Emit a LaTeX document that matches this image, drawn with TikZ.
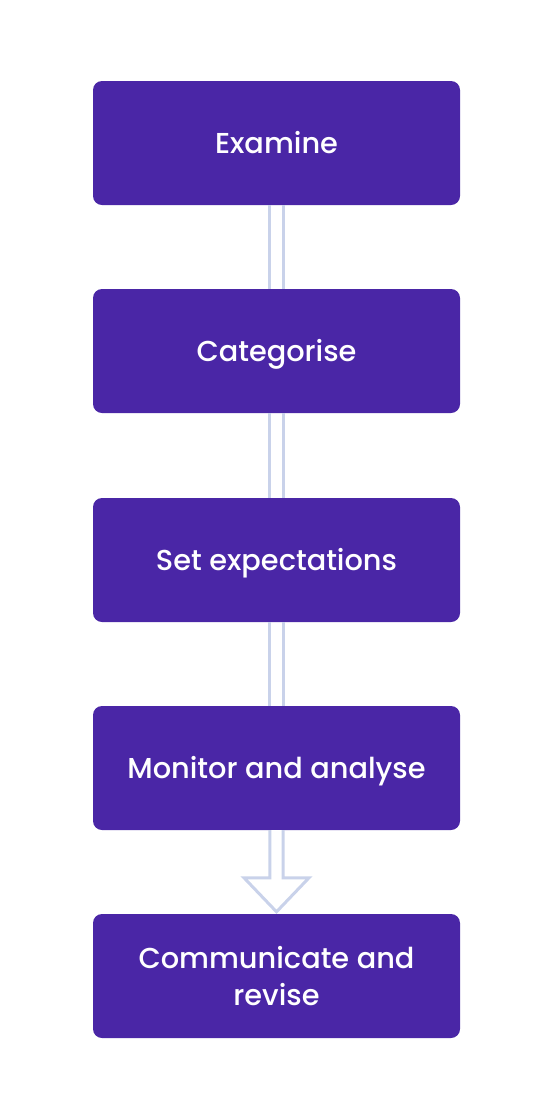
\documentclass[tikz,border=0pt]{standalone}
\usepackage{fontspec}
\setmainfont{Poppins}[UprightFont=* Medium]
\usetikzlibrary{calc}
\definecolor{boxpurple}{HTML}{4A26A6}
\definecolor{linelav}{HTML}{C9D2EA}
\tikzset{
  stepbox/.style={draw=none, fill=boxpurple, rounded corners=9pt, minimum width=367pt, minimum height=124pt, inner sep=0pt, align=center, text=white, font=\fontsize{28.8}{37}\selectfont, text height=20.5pt, text depth=0pt},
  railline/.style={draw=linelav, line width=3pt}
}
\begin{document}
\begin{tikzpicture}[x=1pt,y=-1pt]
\useasboundingbox (0,0) rectangle (550,1117);
\node[stepbox] (b1) at (276.5,143) {Examine};
\node[stepbox] (b2) at (276.5,351) {Categorise};
\node[stepbox] (b3) at (276.5,560) {Set expectations};
\node[stepbox] (b4) at (276.5,768) {Monitor and analyse};
\node[stepbox, text height=58pt] (b5) at (276.5,976) {Communicate and\\revise};
\foreach \a/\b in {b1/b2,b2/b3,b3/b4}{
  \draw[railline] ($(\a.south)+(-6.7,0)$) -- ($(\b.north)+(-6.7,0)$);
  \draw[railline] ($(\a.south)+(6.7,0)$) -- ($(\b.north)+(6.7,0)$);
}
\coordinate (tip) at ($(b5.north)+(0,-2)$);
\draw[railline, fill=white, line join=miter]
  ($(b4.south)+(-6.7,0)$) -- ($(tip)+(-6.7,-34)$) -- ($(tip)+(-32.5,-34)$) -- (tip) -- ($(tip)+(32.5,-34)$) -- ($(tip)+(6.7,-34)$) -- ($(b4.south)+(6.7,0)$);
\end{tikzpicture}
\end{document}
